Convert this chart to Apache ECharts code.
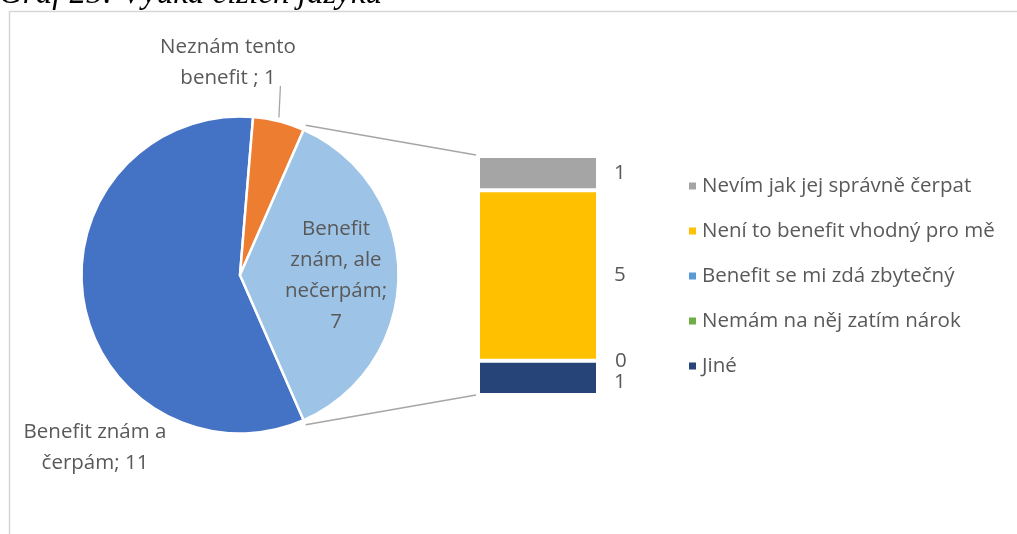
<!DOCTYPE html>
<html>
<head>
<meta charset="utf-8">
<script src="https://cdn.jsdelivr.net/npm/echarts@6/dist/echarts.min.js"></script>
<style>html,body{margin:0;padding:0;background:#fff}#c{width:1017px;height:534px}</style>
</head>
<body>
<div id="c"></div>
<script>
// ---- data ----
var titleText = 'Graf 25: Výuka cizích jazyků';
var pieNames = ['Benefit znám a čerpám', 'Neznám tento benefit ', 'Benefit znám, ale nečerpám'];
var pieValues = [11, 1, 7];
var pieLabels = ['Benefit znám a\nčerpám; 11', 'Neznám tento\nbenefit ; 1', 'Benefit\nznám, ale\nnečerpám;\n7'];
var pieColors = ['#4472C4', '#ED7D31', '#9DC3E6'];
var barNames = ['Nevím jak jej správně čerpat', 'Není to benefit vhodný pro mě', 'Benefit se mi zdá zbytečný', 'Nemám na něj zatím nárok', 'Jiné'];
var barValues = [1, 5, 0, 0, 1];
var barColors = ['#A5A5A5', '#FFC000', '#5B9BD5', '#70AD47', '#264478'];

var txt = '#595959';
var font = 'Open Sans';
var fs = 20.5;
var chart = echarts.init(document.getElementById('c'));

var otherTotal = pieValues[2];
var total = pieValues.reduce(function (a, b) { return a + b; }, 0);
var halfAngle = otherTotal / total * 180;
var pieCenter = [240, 275], pieR = 158.5;

var labelPos = [[95, 448], [228, 63], [336, 276]];

var series = [{
  type: 'pie',
  center: pieCenter,
  radius: pieR,
  startAngle: -halfAngle,
  clockwise: true,
  animation: false,
  itemStyle: { borderColor: '#fff', borderWidth: 2.5 },
  label: { color: txt, fontSize: fs, fontFamily: font, lineHeight: 31, align: 'center', overflow: 'none' },
  labelLine: { show: true, lineStyle: { color: '#a6a6a6', width: 1.3 }, length: 10, length2: 0 },
  labelLayout: function (p) {
    var pos = labelPos[p.dataIndex];
    var res = { x: pos[0], y: pos[1], align: 'center', verticalAlign: 'middle' };
    if (p.dataIndex === 1 && p.labelLinePoints) {
      var s = p.labelLinePoints[0];
      res.labelLinePoints = [[s[0], s[1] - 4], [s[0] + 1.5, 86], [s[0] + 1.5, 86]];
    }
    return res;
  },
  data: pieValues.map(function (v, i) {
    return {
      name: pieNames[i], value: v,
      itemStyle: { color: pieColors[i] },
      label: { formatter: pieLabels[i], position: i === 2 ? 'inside' : 'outside' },
      labelLine: { show: i === 1 }
    };
  })
}];

// stacked bar, bottom first
for (var k = barNames.length - 1; k >= 0; k--) {
  series.push({
    type: 'bar', name: barNames[k], stack: 's', xAxisIndex: 0, yAxisIndex: 0,
    barWidth: '100%', animation: false,
    itemStyle: { color: barColors[k], borderColor: '#fff', borderWidth: 2 },
    label: {
      show: k !== 2, position: 'right', distance: 16, color: txt, fontSize: fs, fontFamily: font,
      offset: [0, k === 4 ? 4 : 0]
    },
    data: [barValues[k]]
  });
}

var option = {
  animation: false,
  grid: { left: 478, top: 156, width: 120, height: 239 },
  xAxis: { type: 'category', data: [''], show: false },
  yAxis: { type: 'value', min: 0, max: otherTotal, show: false },
  legend: {
    data: barNames.map(function (n, i) { return { name: n, itemStyle: { color: barColors[i] } }; }),
    orient: 'vertical', left: 682, top: 170,
    icon: 'rect', itemWidth: 9, itemHeight: 9, itemGap: 23, itemTextGap: 6,
    textStyle: { color: txt, fontSize: fs, fontFamily: font, lineHeight: 22 },
    selectedMode: false
  },
  series: series
};
chart.setOption(option);

// frame, title and connector lines
var topY = chart.convertToPixel({ gridIndex: 0 }, [0, otherTotal])[1];
var botY = chart.convertToPixel({ gridIndex: 0 }, [0, 0])[1];
var a = halfAngle * Math.PI / 180, rr = pieR + 5;
var p1 = [pieCenter[0] + rr * Math.cos(a), pieCenter[1] - rr * Math.sin(a)];
var p2 = [pieCenter[0] + rr * Math.cos(a), pieCenter[1] + rr * Math.sin(a)];
var bx = option.grid.left - 2;
chart.setOption({
  graphic: [
    { type: 'rect', shape: { x: 9.5, y: 11.5, width: 1200, height: 700 }, style: { fill: 'none', stroke: '#d6d6d6', lineWidth: 1.5 }, silent: true },
    { type: 'text', x: -1, y: -6, style: { text: titleText, font: 'italic 33px "Liberation Serif"', fill: '#000', textVerticalAlign: 'middle' }, silent: true },
    { type: 'line', shape: { x1: p1[0], y1: p1[1], x2: bx, y2: topY - 1 }, style: { stroke: '#a6a6a6', lineWidth: 1.5 }, silent: true },
    { type: 'line', shape: { x1: p2[0], y1: p2[1], x2: bx, y2: botY }, style: { stroke: '#a6a6a6', lineWidth: 1.5 }, silent: true }
  ]
});
</script>
</body>
</html>
